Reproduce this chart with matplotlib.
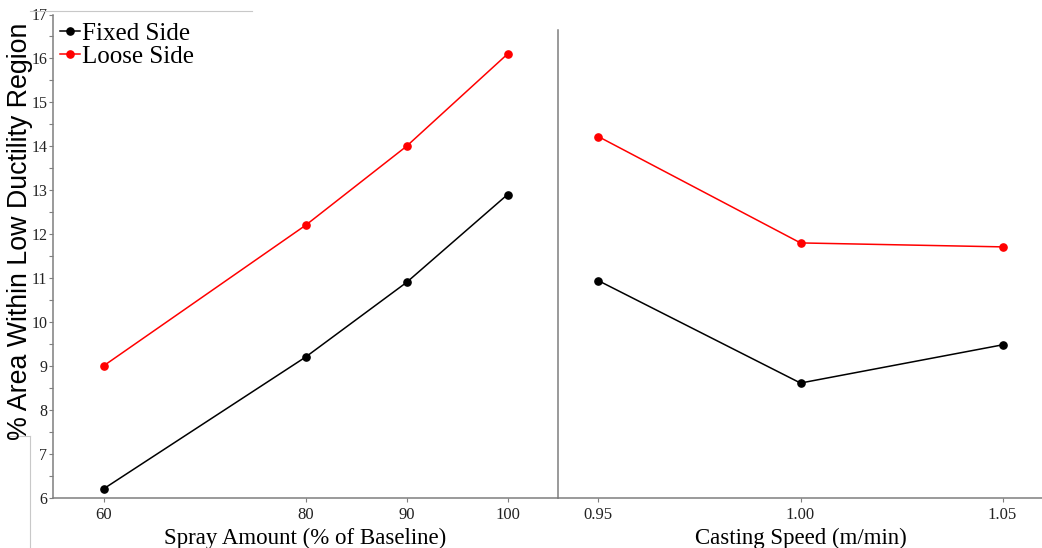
import matplotlib
matplotlib.use("Agg")
import matplotlib.pyplot as plt
from matplotlib.lines import Line2D
from matplotlib.ticker import MultipleLocator, FixedLocator

# Spray amount study (% of baseline)
spray_amount = [60, 80, 90, 100]
spray_fixed = [6.2, 9.2, 10.9, 12.9]
spray_loose = [9.0, 12.2, 14.0, 16.1]

# Casting speed study (m/min)
casting_speed = [0.95, 1.00, 1.05]
speed_fixed = [10.94, 8.61, 9.48]
speed_loose = [14.22, 11.80, 11.71]

series_labels = ["Fixed Side", "Loose Side"]
series_colors = ["#000000", "#ff0000"]

spray_ticks = [60, 80, 90, 100]
speed_ticks = [0.95, 1.00, 1.05]
speed_ticklabels = ["0.95", "1.00", "1.05"]

SERIF = "Liberation Serif"
SANS = "Liberation Sans"
SPINE = "#7f7f7f"

W, H = 1042, 548
fig = plt.figure(figsize=(W / 100, H / 100), dpi=100)

def fx(px):
    return px / W

def fy(py):
    return 1 - py / H

bottom = fy(497.7)
top = fy(14.5)
ax1 = fig.add_axes([fx(53), bottom, fx(505), top - bottom])
ax2 = fig.add_axes([fx(558), bottom, fx(485), top - bottom])

ymin, ymax = 6, 17
for ax in (ax1, ax2):
    ax.set_ylim(ymin, ymax)
    ax.spines["top"].set_visible(False)
    ax.spines["right"].set_visible(False)
    for s in ("left", "bottom"):
        ax.spines[s].set_color(SPINE)
        ax.spines[s].set_linewidth(1.1)
    ax.tick_params(axis="x", direction="out", length=3, width=0.8, color=SPINE,
                   pad=4, labelsize=12, labelcolor="#222222")
    ax.patch.set_alpha(0)

# Left panel: spray amount
for vals, color in zip([spray_fixed, spray_loose], series_colors):
    ax1.plot(spray_amount, vals, color=color, lw=1.1, marker="o", ms=5.2,
             clip_on=False)
ax1.set_xlim(55, 105)
ax1.xaxis.set_major_locator(FixedLocator(spray_ticks))
ax1.yaxis.set_major_locator(MultipleLocator(1))
ax1.yaxis.set_minor_locator(MultipleLocator(0.5))
ax1.tick_params(axis="y", which="both", direction="out", length=3, width=0.8,
                color=SPINE, pad=1, labelsize=11.5, labelcolor="#222222")
for lab in ax1.get_xticklabels() + ax1.get_yticklabels():
    lab.set_fontfamily(SERIF)
ax1.set_xlabel("Spray Amount (% of Baseline)", fontfamily=SERIF, fontsize=16.5,
               labelpad=3)

# Right panel: casting speed
for vals, color in zip([speed_fixed, speed_loose], series_colors):
    ax2.plot(casting_speed, vals, color=color, lw=1.1, marker="o", ms=5.2,
             clip_on=False)
ax2.set_xlim(0.94, 1.06)
ax2.xaxis.set_major_locator(FixedLocator(speed_ticks))
ax2.set_xticklabels(speed_ticklabels)
ax2.set_yticks([])
ax2.spines["left"].set_bounds(ymin, 16.65)
for lab in ax2.get_xticklabels():
    lab.set_fontfamily(SERIF)
ax2.set_xlabel("Casting Speed (m/min)", fontfamily=SERIF, fontsize=16.5,
               labelpad=3)

# Shared y label
fig.text(fx(20), fy(231), "% Area Within Low Ductility Region", rotation=90,
         ha="center", va="center", fontfamily=SANS, fontsize=19.3)

# Legend
handles = [Line2D([], [], color=c, lw=1.1, marker="o", ms=5.2)
           for c in series_colors]
ax1.legend(handles, series_labels, loc="upper left",
           bbox_to_anchor=(fx(7) / fx(505), 1 - 8 / 483), frameon=False,
           prop={"family": SERIF, "size": 18}, handlelength=0.8,
           handletextpad=0.1, labelspacing=0.0, borderpad=0.0,
           borderaxespad=0.0)

# Thin frame lines along the page edges
edge = "#c8c8c8"
fig.add_artist(Line2D([fx(30), fx(252)], [fy(11), fy(11)], color=edge, lw=0.8))
fig.add_artist(Line2D([fx(30), fx(30)], [fy(436), fy(548)], color=edge, lw=0.8))
fig.add_artist(Line2D([fx(8), fx(30)], [fy(436), fy(436)], color=edge, lw=0.8))

fig.savefig("out.png", dpi=100)
